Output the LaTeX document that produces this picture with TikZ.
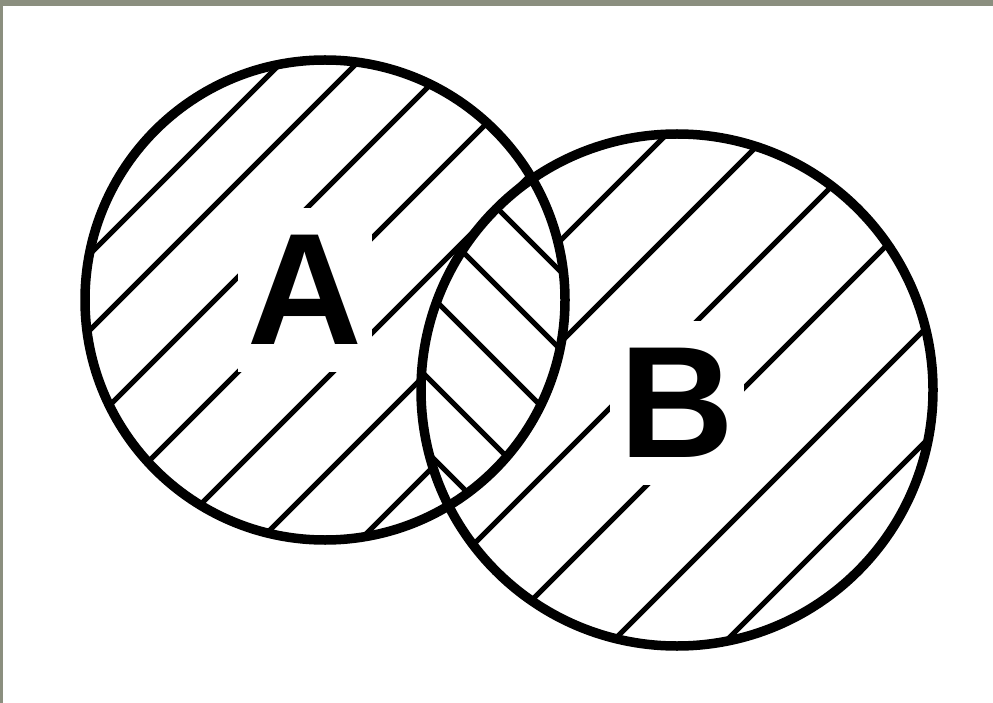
\documentclass[tikz,border=0pt]{standalone}
\usepackage{fontspec}
\setmainfont{Liberation Sans}
\definecolor{bordergray}{RGB}{139,143,127}
\begin{document}
\begin{tikzpicture}[x=1pt,y=-1pt,
  ringline/.style={line width=9.5pt},
  hatchline/.style={line width=5pt},
  lettertag/.style={fill=white, inner sep=0pt, minimum width=134pt, minimum height=164pt,
    font=\fontsize{159}{159}\selectfont\bfseries}]
\useasboundingbox (0,0) rectangle (993,703);
\fill[white] (0,0) rectangle (993,703);
\fill[bordergray] (0,0) rectangle (993,6);
\fill[bordergray] (0,0) rectangle (3,703);
% hatching of A
\begin{scope}
  \clip (325,300) circle [radius=240pt];
  \foreach \s in {344,420,515,610,705,800,900}
    \draw[hatchline] (\s-800,800) -- (\s+100,-100);
\end{scope}
% hatching of B
\begin{scope}
  \clip (677,390) circle [radius=256pt];
  \foreach \s in {801,903,1018,1132,1254,1367}
    \draw[hatchline] (\s-800,800) -- (\s+100,-100);
\end{scope}
% intersection, hatched the other way
\begin{scope}
  \clip (325,300) circle [radius=240pt];
  \clip (677,390) circle [radius=256pt];
  \fill[white] (0,0) rectangle (993,703);
  \foreach \d in {289,211,135,50,-25}
    \draw[hatchline] (\d-100,-100) -- (\d+800,800);
\end{scope}
% labels
\node[lettertag] (A) at (305,290) {A};
\node[lettertag] (B) at (677,403) {B};
% outlines
\draw[ringline] (325,300) circle [radius=240pt];
\draw[ringline] (677,390) circle [radius=256pt];
\end{tikzpicture}
\end{document}
